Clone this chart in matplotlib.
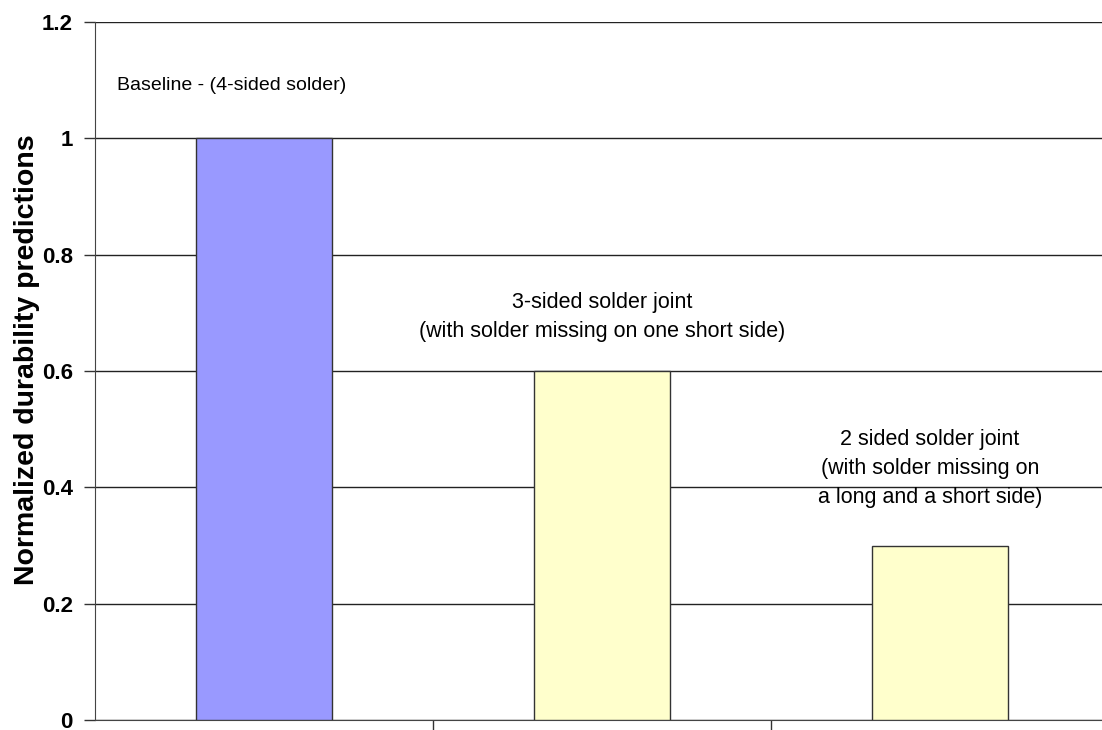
import matplotlib

matplotlib.use("Agg")

import matplotlib.pyplot as plt

# data
categories = ["Baseline", "3-sided", "2-sided"]
values = [1.0, 0.6, 0.3]
bar_colors = ["#9999FF", "#FFFFCC", "#FFFFCC"]
y_ticks = [0, 0.2, 0.4, 0.6, 0.8, 1.0, 1.2]
y_tick_labels = ["0", "0.2", "0.4", "0.6", "0.8", "1", "1.2"]
notes = [
    "Baseline - (4-sided solder)",
    "3-sided solder joint\n(with solder missing on one short side)",
    "2 sided solder joint\n(with solder missing on\na long and a short side)",
]

# layout of the notes (data coords)
note_pos = [(-0.435, 1.09), (1.0, 0.693), (1.97, 0.433)]
note_ha = ["left", "center", "center"]
note_size = [14, 15.5, 15.5]

plt.rcParams["font.family"] = ["Liberation Sans", "DejaVu Sans"]

W, H = 1102, 730
fig = plt.figure(figsize=(W / 100, H / 100), dpi=100)
ax = fig.add_axes([95 / W, 10 / H, (1109 - 95) / W, (720 - 22) / H])

x = list(range(len(categories)))
ax.bar(x, values, width=0.4, color=bar_colors, edgecolor="#333333",
       linewidth=1.0, zorder=3)

ax.set_xlim(-0.5, len(categories) - 0.5)
ax.set_ylim(0, 1.2)
ax.set_yticks(y_ticks)
ax.set_yticklabels(y_tick_labels, fontsize=16, fontweight="bold")
ax.set_xticks([0.5, 1.5])
ax.set_xticklabels([])
ax.tick_params(axis="both", direction="out", length=8, width=1,
               color="#333333", pad=8)

ax.grid(axis="y", color="#222222", linewidth=1.0, zorder=0)
ax.set_axisbelow(True)
for side in ("top", "right"):
    ax.spines[side].set_visible(False)
ax.spines["left"].set_color("#444444")
ax.spines["bottom"].set_color("#444444")

ax.set_ylabel("Normalized durability predictions", fontsize=20.5,
              fontweight="bold")
ax.yaxis.set_label_coords(-0.054, 0.516)

for text, (tx, ty), ha, size in zip(notes, note_pos, note_ha, note_size):
    ax.text(tx, ty, text, ha=ha, va="center", fontsize=size,
            linespacing=1.5, zorder=4)

fig.savefig("out.png", dpi=100, facecolor="white")
